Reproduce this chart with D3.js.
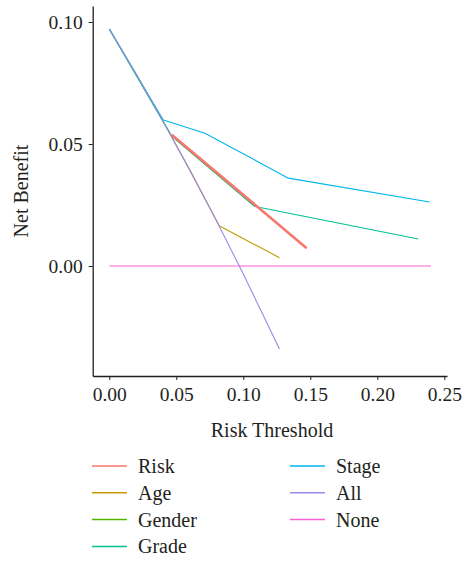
<!DOCTYPE html>
<html><head><meta charset="utf-8">
<script src="https://cdn.jsdelivr.net/npm/d3@7"></script>
<style>body{margin:0;background:#fff;} text{font-family:"Liberation Serif","Times New Roman",serif;fill:#231f20;}</style>
</head><body><svg id="c" width="463" height="565"></svg>
<script>
const seriesNames = ["Risk","Age","Gender","Grade","Stage","All","None"];
const seriesColors = ["#F8766D","#C49A00","#53B400","#00C094","#00B6EB","#9A8AE8","#FB61D7"];
const riskX = [0.0466, 0.1473];
const riskY = [0.0538, 0.0073];
const ageX = [0, 0.02, 0.04, 0.06, 0.082, 0.127];
const ageY = [0.0971, 0.0787, 0.0594, 0.0394, 0.0165, 0.0034];
const genderX = [0, 0.0466, 0.1087];
const genderY = [0.0971, 0.0532, 0.0244];
const gradeX = [0, 0.0466, 0.1087, 0.2306];
const gradeY = [0.0971, 0.0532, 0.0244, 0.0111];
const stageX = [0, 0.0403, 0.0714, 0.1336, 0.239];
const stageY = [0.0971, 0.0598, 0.0544, 0.036, 0.0262];
const allX = [0, 0.02, 0.04, 0.06, 0.08, 0.10, 0.127];
const allY = [0.0971, 0.0787, 0.0594, 0.0394, 0.0185, -0.0033, -0.034];
const noneX = [0, 0.24];
const noneY = [0, 0];
const xTicks = [0, 0.05, 0.10, 0.15, 0.20, 0.25];
const yTicks = [0, 0.05, 0.10];

const svg = d3.select("#c");
const x = d3.scaleLinear().domain([-0.01239, 0.2520]).range([92.7, 447]);
const y = d3.scaleLinear().domain([-0.04508, 0.10656]).range([376, 6]);

const pts = (xs, ys) => xs.map((v,i)=>[v, ys[i]]);
const data = {
  Risk: pts(riskX, riskY), Age: pts(ageX, ageY), Gender: pts(genderX, genderY),
  Grade: pts(gradeX, gradeY), Stage: pts(stageX, stageY), All: pts(allX, allY), None: pts(noneX, noneY)
};
const color = d3.scaleOrdinal().domain(seriesNames).range(seriesColors);
const line = d3.line().x(d=>x(d[0])).y(d=>y(d[1]));

const drawOrder = ["None","Age","Gender","Grade","Stage","All","Risk"];
drawOrder.forEach(n=>{
  svg.append("path").datum(data[n]).attr("d", line).attr("fill","none")
    .attr("stroke", color(n)).attr("stroke-width", n==="Risk"?2.6:1.1)
    .attr("stroke-linejoin","round");
});

// axes
const xa = svg.append("g").attr("transform","translate(0,376)")
  .call(d3.axisBottom(x).tickValues(xTicks).tickFormat(d3.format(".2f")).tickSize(4).tickSizeOuter(0));
const ya = svg.append("g").attr("transform","translate(92.7,0)")
  .call(d3.axisLeft(y).tickValues(yTicks).tickFormat(d3.format(".2f")).tickSize(4).tickSizeOuter(0));
[xa, ya].forEach(a=>{
  a.select(".domain").attr("stroke","#231f20").attr("stroke-width",1.3);
  a.selectAll(".tick line").attr("stroke","#231f20").attr("stroke-width",1);
  a.selectAll(".tick text").attr("font-size",19.5).attr("font-family",null).style("fill","#231f20");
});
xa.selectAll(".tick text").attr("dy","0.95em").attr("y",6);
ya.selectAll(".tick text").attr("x",-10).attr("dy","0.34em");

svg.append("text").attr("x",272).attr("y",437).attr("text-anchor","middle").attr("font-size",20).text("Risk Threshold");
svg.append("text").attr("transform","translate(28,191) rotate(-90)").attr("text-anchor","middle").attr("font-size",20).text("Net Benefit");

// legend
const leg = svg.append("g");
seriesNames.forEach((n,i)=>{
  const col = i<4?0:1, row = i<4?i:i-4;
  const lx = col===0?92:290, ly = 466 + row*26.8;
  leg.append("line").attr("x1",lx).attr("x2",lx+35).attr("y1",ly).attr("y2",ly)
    .attr("stroke",color(n)).attr("stroke-width",1.5);
  leg.append("text").attr("x",lx+46).attr("y",ly).attr("dy","0.35em").attr("font-size",20).text(n);
});
</script></body></html>
